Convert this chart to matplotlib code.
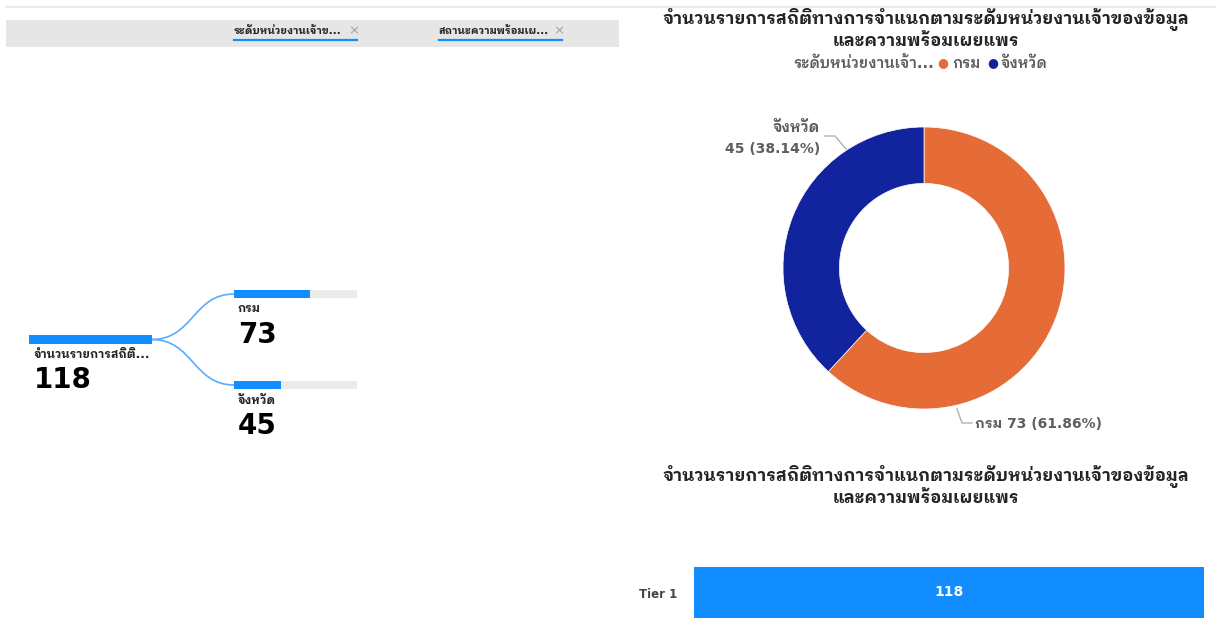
import matplotlib
matplotlib.use("Agg")
import matplotlib.pyplot as plt
from matplotlib.patches import Rectangle, PathPatch
from matplotlib.path import Path
from matplotlib.lines import Line2D

plt.rcParams['font.family'] = ['DejaVu Sans', 'IBM Plex Sans Thai Looped']

# ---------------- data ----------------
chart_title = "จำนวนรายการสถิติทางการจำแนกตามระดับหน่วยงานเจ้าของข้อมูล\nและความพร้อมเผยแพร"
filter_labels = ["ระดับหน่วยงานเจ้าข...", "สถานะความพร้อมเผ..."]
root_label = "จำนวนรายการสถิติ..."
root_value = 118
categories = ["กรม", "จังหวัด"]
values = [73, 45]
legend_title = "ระดับหน่วยงานเจ้า..."
tier_labels = ["Tier 1"]
tier_values = [118]

ORANGE = "#E66C37"
NAVY = "#12239E"
BLUE = "#118DFF"
DARK = "#252423"
GREY = "#605E5C"

W, H = 1216, 618
fig = plt.figure(figsize=(W / 100, H / 100), dpi=100)
fig.patch.set_facecolor("white")


def fx(px):
    return px / W


def fy(py):
    return 1 - py / H


# ---------------- top rule + filter bar ----------------
fig.add_artist(Line2D([fx(6), fx(1216)], [fy(7), fy(7)], color="#EBEBEB", lw=1.5))
fig.add_artist(Rectangle((fx(6), fy(47)), fx(613), 27 / H, transform=fig.transFigure,
                         facecolor="#E6E6E6", edgecolor="none"))
for lbl, x0 in zip(filter_labels, [234, 439]):
    fig.text(fx(x0), fy(31), lbl, fontsize=7.5, fontweight="bold", color=DARK, va="center")
    fig.add_artist(Line2D([fx(x0), fx(x0 + 123)], [fy(39.5), fy(39.5)], color=BLUE, lw=1.6))
    fig.text(fx(x0 + 114), fy(31), "×", fontsize=9.5, color="#A0A0A0", va="center")

# ---------------- decomposition tree ----------------
axt = fig.add_axes([0, 0, fx(620), fy(60)])
axt.set_xlim(0, 620)
axt.set_ylim(618, 60)
axt.axis("off")
scale = 123 / root_value
root_y = 339.5
axt.barh([root_y], [root_value * scale], left=29, height=9, color=BLUE)
axt.text(34, 354, root_label, fontsize=8.5, fontweight="bold", color=DARK, va="center")
axt.text(34, 380, str(root_value), fontsize=20, fontweight="bold", color="black", va="center")
child_y = [294, 385]
for cat, v, cy in zip(categories, values, child_y):
    axt.barh([cy], [root_value * scale], left=234, height=8, color="#EBEBEB")
    axt.barh([cy], [v * scale], left=234, height=8, color=BLUE)
    axt.text(238, cy + 15, cat, fontsize=8.5, fontweight="bold", color=DARK, va="center")
    axt.text(238, cy + 41, str(v), fontsize=20, fontweight="bold", color="black", va="center")
    verts = [(152, root_y), (193, root_y), (193, cy), (234, cy)]
    path = Path(verts, [Path.MOVETO, Path.CURVE4, Path.CURVE4, Path.CURVE4])
    axt.add_patch(PathPatch(path, facecolor="none", edgecolor="#5AAAFF", lw=1.2))

# ---------------- donut ----------------
fig.text(fx(926), fy(29), chart_title, fontsize=12.3, fontweight="bold", color=DARK,
         ha="center", va="center", linespacing=1.05)
# legend line
fig.text(fx(934), fy(64), legend_title, fontsize=10.5, fontweight="semibold", color=GREY,
         ha="right", va="center")
fig.text(fx(943), fy(63), "●", fontsize=9, color=ORANGE, ha="center", va="center")
fig.text(fx(952), fy(64), categories[0], fontsize=10.5, fontweight="semibold", color=GREY,
         ha="left", va="center")
fig.text(fx(993), fy(63), "●", fontsize=9, color=NAVY, ha="center", va="center")
fig.text(fx(1001), fy(64), categories[1], fontsize=10.5, fontweight="semibold", color=GREY,
         ha="left", va="center")

R = 141
cx, cy0 = 924, 268
axp = fig.add_axes([fx(cx - R), fy(cy0 + R), 2 * R / W, 2 * R / H])
axp.pie(values, colors=[ORANGE, NAVY], startangle=90, counterclock=False,
        wedgeprops=dict(width=0.4, edgecolor="white", linewidth=0.5))
axp.set_xlim(-1, 1)
axp.set_ylim(-1, 1)
axp.axis("off")

total = sum(values)
pct = [v / total * 100 for v in values]
# label for จังหวัด (upper-left)
fig.text(fx(820), fy(128), categories[1], fontsize=10.5, fontweight="bold", color=GREY,
         ha="right", va="center")
fig.text(fx(820), fy(149), f"{values[1]} ({pct[1]:.2f}%)", fontsize=10, fontweight="bold",
         color=GREY, ha="right", va="center")
fig.add_artist(Line2D([fx(825), fx(835), fx(846)], [fy(136), fy(136), fy(149)],
                      color="#B0B0B0", lw=1))
# label for กรม (lower-right)
fig.add_artist(Line2D([fx(957), fx(962), fx(972)], [fy(409), fy(423), fy(423)],
                      color="#B0B0B0", lw=1))
fig.text(fx(975), fy(424), f"{categories[0]} {values[0]} ({pct[0]:.2f}%)", fontsize=10,
         fontweight="bold", color=GREY, ha="left", va="center")

# ---------------- bottom bar chart ----------------
fig.text(fx(926), fy(486), chart_title, fontsize=12.3, fontweight="bold", color=DARK,
         ha="center", va="center", linespacing=1.05)
axb = fig.add_axes([fx(694), 0, fx(510), 78 / H])
bars = axb.barh(tier_labels, tier_values, height=1.0, color=BLUE)
axb.set_xlim(0, max(tier_values))
axb.set_ylim(-0.3, 0.923)
axb.bar_label(bars, labels=[str(v) for v in tier_values], label_type="center",
              color="white", fontsize=10, fontweight="bold")
for s in axb.spines.values():
    s.set_visible(False)
axb.set_xticks([])
axb.set_yticks([0.092])
axb.set_yticklabels(tier_labels)
axb.tick_params(axis="y", length=0, pad=12, labelsize=8.5, labelcolor="#444444")
for t in axb.get_yticklabels():
    t.set_fontweight("bold")

fig.savefig("out.png", dpi=100, facecolor="white")
